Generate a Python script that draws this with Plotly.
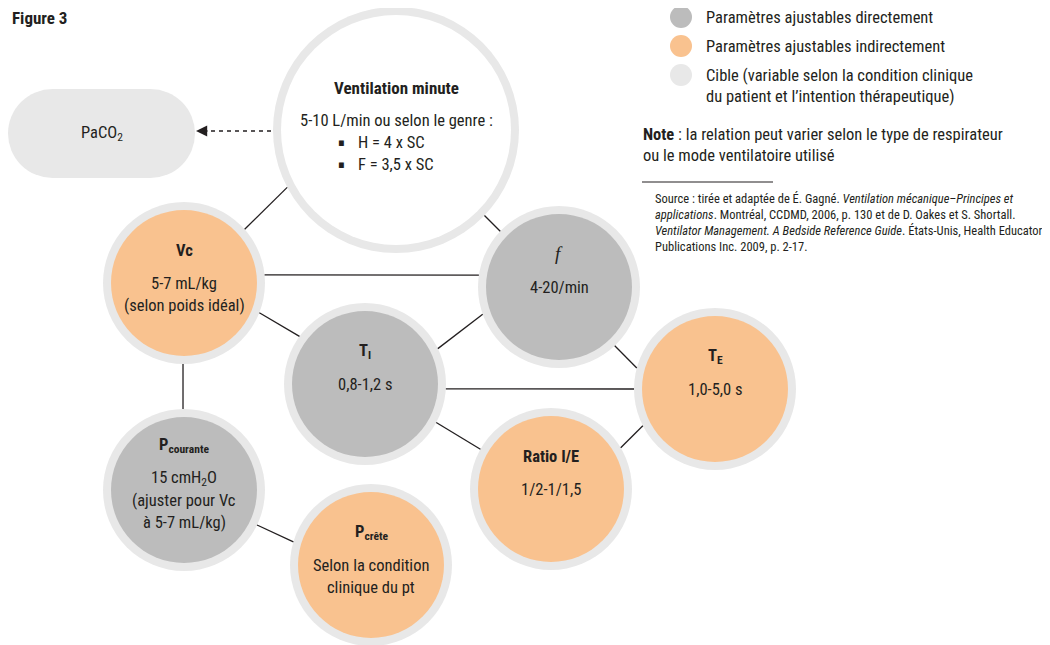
import plotly.graph_objects as go
import math

# ---------------- data ----------------
node_ids = ["vm", "vc", "f", "ti", "te", "ratio", "pcour", "pcrete"]
node_titles = ["<b>Ventilation minute</b>", "<b>Vc</b>", "<i>f</i>", "<b>T<sub>I</sub></b>",
               "<b>T<sub>E</sub></b>", "<b>Ratio I/E</b>", "<b>P<sub>courante</sub></b>",
               "<b>P<sub>crête</sub></b>"]
node_values = [
    ["5-10 L/min ou selon le genre :", "H = 4 x SC", "F = 3,5 x SC"],
    ["5-7 mL/kg", "(selon poids idéal)"],
    ["4-20/min"],
    ["0,8-1,2 s"],
    ["1,0-5,0 s"],
    ["1/2-1/1,5"],
    ["15 cmH<sub>2</sub>O", "(ajuster pour Vc", "à 5-7 mL/kg)"],
    ["Selon la condition", "clinique du pt"],
]
node_category = ["cible", "indirect", "direct", "direct", "indirect", "indirect", "direct", "indirect"]
edges = [("vm", "vc"), ("vm", "f"), ("vc", "f"), ("vc", "ti"), ("ti", "f"), ("ti", "te"),
         ("ti", "ratio"), ("f", "te"), ("ratio", "te"), ("vc", "pcour"), ("pcour", "pcrete")]
target_label = "PaCO<sub>2</sub>"
legend_labels = ["Paramètres ajustables directement", "Paramètres ajustables indirectement",
                 "Cible (variable selon la condition clinique<br>du patient et l’intention thérapeutique)"]
legend_cats = ["direct", "indirect", "ring"]
note_text = "<b>Note</b> : la relation peut varier selon le type de respirateur<br>ou le mode ventilatoire utilisé"
src_lines = ["Source : tirée et adaptée de É. Gagné. <i>Ventilation mécanique–Principes et</i>",
             "<i>applications</i>. Montréal, CCDMD, 2006, p. 130 et de D. Oakes et S. Shortall.",
             "<i>Ventilator Management. A Bedside Reference Guide</i>. États-Unis, Health Educator",
             "Publications Inc. 2009, p. 2-17."]
fig_title = "<b>Figure 3</b>"

# ---------------- layout / styles ----------------
pos = {"vm": (396, 130), "vc": (184, 283), "f": (559, 287), "ti": (365, 384), "te": (715, 389),
       "ratio": (551, 489), "pcour": (184, 490), "pcrete": (371, 565)}
radius = {"vm": 123}
R_SMALL = 81
RING = 8
# angles (deg, screen coords) where each edge leaves / enters a circle
edge_angles = {("vm", "vc"): (152.2, -41.5), ("vm", "f"): (44, -136.5), ("vc", "f"): (-5.7, 188.5),
               ("vc", "ti"): (21.5, 216), ("ti", "f"): (-25.9, 160.4), ("ti", "te"): (3.5, 180),
               ("ti", "ratio"): (28.4, 209.4), ("f", "te"): (46.5, 195), ("ratio", "te"): (-30.6, 153),
               ("vc", "pcour"): (90.7, -90.7), ("pcour", "pcrete"): (25.6, 196.6)}
fills = {"direct": "#bcbcbc", "indirect": "#f9c28f", "cible": "#ffffff", "ring": "#e8e8e8"}
TXT = "#231f20"
FONT = "Liberation Sans Narrow, Roboto Condensed, DejaVu Sans Condensed, Arial Narrow, sans-serif"

W, H = 1050, 645
OFF = 8  # page body margin
fig = go.Figure()
shapes = []
ann = []


def circle(cx, cy, r, color, layer="below"):
    shapes.append(dict(type="circle", xref="x", yref="y", x0=cx - r, x1=cx + r, y0=cy - r, y1=cy + r,
                       fillcolor=color, line=dict(width=0), layer=layer))


def text(x, y, s, size=16, xanchor="center", family=FONT, align="center"):
    ann.append(dict(x=x, y=y, text=s, showarrow=False, xanchor=xanchor, align=align,
                    font=dict(family=family, size=size, color=TXT), xref="x", yref="y"))


# edges
for a, b in edges:
    ang_a, ang_b = edge_angles[(a, b)]
    ra = radius.get(a, R_SMALL)
    rb = radius.get(b, R_SMALL)
    xa = pos[a][0] + ra * math.cos(math.radians(ang_a))
    ya = pos[a][1] + ra * math.sin(math.radians(ang_a))
    xb = pos[b][0] + rb * math.cos(math.radians(ang_b))
    yb = pos[b][1] + rb * math.sin(math.radians(ang_b))
    fig.add_trace(go.Scatter(x=[xa, xb], y=[ya, yb], mode="lines",
                             line=dict(color="#231f20", width=1.3), hoverinfo="skip", showlegend=False))

# nodes
for nid, title, vals, cat in zip(node_ids, node_titles, node_values, node_category):
    cx, cy = pos[nid]
    r = radius.get(nid, R_SMALL)
    circle(cx, cy, r, fills["ring"])
    circle(cx, cy, r - RING, fills[cat])
    step = 22
    if nid == "vm":
        ty, vy0 = cy - 42, cy - 10
    else:
        ty = cy - 33 if len(vals) < 3 else cy - 45
        vy0 = ty + 33
    if nid == "f":
        text(cx, ty - 1, title, size=19, family="Liberation Serif, DejaVu Serif, serif")
    else:
        text(cx, ty, title, size=17 if nid == "vm" else 16.5)
    for i, v in enumerate(vals):
        if nid == "vm" and i > 0:
            text(cx - 55, vy0 + i * step, "▪", size=11)
            text(cx - 40, vy0 + i * step, v, size=16.5, xanchor="left")
        else:
            text(cx, vy0 + i * step, v, size=16.5)

# PaCO2 target (pill)
px0, px1, py0, py1 = 8, 195, 89, 178
pr = (py1 - py0) / 2
circle(px0 + pr, (py0 + py1) / 2, pr, fills["ring"])
circle(px1 - pr, (py0 + py1) / 2, pr, fills["ring"])
shapes.append(dict(type="rect", xref="x", yref="y", x0=px0 + pr, x1=px1 - pr, y0=py0, y1=py1,
                   fillcolor=fills["ring"], line=dict(width=0), layer="below"))
text((px0 + px1) / 2, (py0 + py1) / 2, target_label, size=16.5)

# dashed arrow VM -> PaCO2
fig.add_trace(go.Scatter(x=[pos["vm"][0] - radius["vm"] - 2, px1 + 10], y=[131, 131], mode="lines",
                         line=dict(color="#231f20", width=1.4, dash="4px,4px"), hoverinfo="skip", showlegend=False))
ann.append(dict(x=px1 + 1, y=131, ax=px1 + 14, ay=131, axref="x", ayref="y", xref="x", yref="y",
                text="", showarrow=True, arrowhead=2, arrowsize=1.6, arrowwidth=1.4, arrowcolor="#231f20"))

# legend
leg_y = [17, 46, 75]
for yy, lab, cat in zip(leg_y, legend_labels, legend_cats):
    circle(681, yy, 11, fills[cat])
    text(704, yy + (11 if "<br>" in lab else 0), lab, size=16.5, xanchor="left", align="left")

text(641, 145, note_text, size=16.5, xanchor="left", align="left")
shapes.append(dict(type="line", xref="x", yref="y", x0=642, x1=773, y0=182, y1=182,
                   line=dict(color="#231f20", width=1.2)))
for i, s in enumerate(src_lines):
    text(653, 198 + i * 16, s, size=12.5, xanchor="left")

text(10, 18, fig_title, size=17, xanchor="left")

fig.update_layout(width=W - OFF, height=H - OFF, margin=dict(l=0, r=0, t=0, b=0), plot_bgcolor="white",
                  paper_bgcolor="white", shapes=shapes, annotations=ann, showlegend=False)
fig.update_xaxes(range=[OFF, W], visible=False, fixedrange=True)
fig.update_yaxes(range=[H, OFF], visible=False, fixedrange=True)
fig.write_html("out.html", config={"displayModeBar": False})
